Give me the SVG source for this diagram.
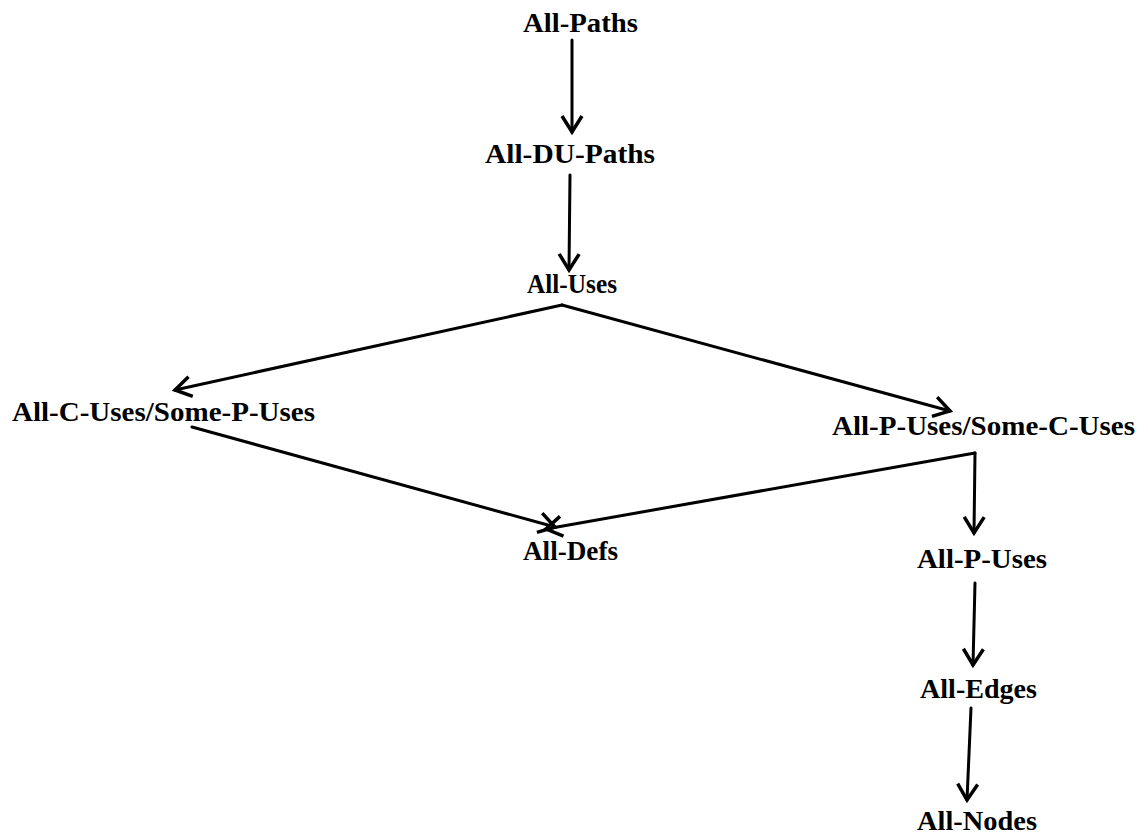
<svg xmlns="http://www.w3.org/2000/svg" width="1145" height="838" viewBox="0 0 1145 838">
<defs>
<style>
.lbl{font-family:"Liberation Serif","Times New Roman",serif;font-weight:bold;font-size:28px;fill:#000}
.edge{stroke:#000;stroke-width:3;fill:none;stroke-linecap:round}
</style>
<marker id="ah" markerUnits="userSpaceOnUse" markerWidth="40" markerHeight="40" viewBox="-20 -20 40 40" refX="0" refY="0" orient="auto" overflow="visible">
<path d="M -16 -10 L 0 0 L -16 10" stroke="#000" stroke-width="3.5" fill="none" stroke-linejoin="miter"/>
</marker>
</defs>
<rect width="1145" height="838" fill="#fff"/>
<g id="connectors">
<line class="edge" x1="572" y1="40" x2="572" y2="132" marker-end="url(#ah)"/>
<line class="edge" x1="570" y1="175" x2="569" y2="270" marker-end="url(#ah)"/>
<line class="edge" x1="562" y1="305" x2="175" y2="390" marker-end="url(#ah)"/>
<line class="edge" x1="562" y1="305" x2="950" y2="411" marker-end="url(#ah)"/>
<line class="edge" x1="192" y1="427" x2="555" y2="527" marker-end="url(#ah)"/>
<line class="edge" x1="975" y1="453" x2="546" y2="529" marker-end="url(#ah)"/>
<line class="edge" x1="975" y1="453" x2="974" y2="533" marker-end="url(#ah)"/>
<line class="edge" x1="975" y1="583" x2="973" y2="665" marker-end="url(#ah)"/>
<line class="edge" x1="971" y1="708" x2="967" y2="800" marker-end="url(#ah)"/>
</g>
<g id="all-paths"><text class="lbl" x="523" y="32" textLength="115" lengthAdjust="spacingAndGlyphs">All-Paths</text></g>
<g id="all-du-paths"><text class="lbl" x="485" y="163" textLength="170" lengthAdjust="spacingAndGlyphs">All-DU-Paths</text></g>
<g id="all-uses"><text class="lbl" x="527" y="293" textLength="90" lengthAdjust="spacingAndGlyphs">All-Uses</text></g>
<g id="all-c-uses-some-p-uses"><text class="lbl" x="12" y="421" textLength="303" lengthAdjust="spacingAndGlyphs">All-C-Uses/Some-P-Uses</text></g>
<g id="all-p-uses-some-c-uses"><text class="lbl" x="832" y="435" textLength="303" lengthAdjust="spacingAndGlyphs">All-P-Uses/Some-C-Uses</text></g>
<g id="all-defs"><text class="lbl" x="523" y="560" textLength="95" lengthAdjust="spacingAndGlyphs">All-Defs</text></g>
<g id="all-p-uses"><text class="lbl" x="917" y="568" textLength="130" lengthAdjust="spacingAndGlyphs">All-P-Uses</text></g>
<g id="all-edges"><text class="lbl" x="920" y="698" textLength="117" lengthAdjust="spacingAndGlyphs">All-Edges</text></g>
<g id="all-nodes"><text class="lbl" x="917" y="830" textLength="120" lengthAdjust="spacingAndGlyphs">All-Nodes</text></g>
</svg>
